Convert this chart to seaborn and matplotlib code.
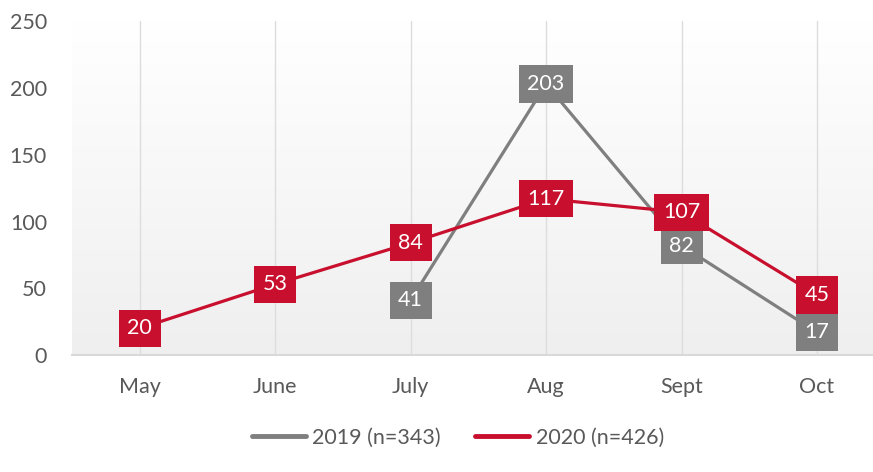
import numpy as np
import pandas as pd
import matplotlib
matplotlib.use("Agg")
import matplotlib.pyplot as plt
import seaborn as sns
from matplotlib.lines import Line2D

months = ["May", "June", "July", "Aug", "Sept", "Oct"]
vals_2019 = [np.nan, np.nan, 41, 203, 82, 17]
vals_2020 = [20, 53, 84, 117, 107, 45]
series_names = ["2019 (n=343)", "2020 (n=426)"]
colors = {"2019 (n=343)": "#7F7F7F", "2020 (n=426)": "#C8102E"}
y_ticks = [0, 50, 100, 150, 200, 250]

sns.set_theme(style="white")
plt.rcParams["font.family"] = ["Lato", "DejaVu Sans"]

rows = []
for i, m in enumerate(months):
    rows.append({"idx": i, "month": m, "value": vals_2019[i], "series": series_names[0]})
    rows.append({"idx": i, "month": m, "value": vals_2020[i], "series": series_names[1]})
df = pd.DataFrame(rows).dropna()

fig = plt.figure(figsize=(8.73, 4.72), dpi=100)
ax = fig.add_axes([72 / 873, 117 / 472, 812.7 / 873, 333.7 / 472])

# gradient background
grad = np.linspace(0, 1, 256).reshape(-1, 1)
top = np.array([1.0, 1.0, 1.0])
bot = np.array([0xEF, 0xEF, 0xEF]) / 255
img = top + (bot - top) * grad
img = np.repeat(img[:, None, :], 2, axis=1)
ax.imshow(img, extent=[-0.5, 5.5, 0, 250], aspect="auto", origin="upper", zorder=0)

for z, name in [(2, series_names[0]), (3, series_names[1])]:
    sub = df[df["series"] == name]
    sns.lineplot(data=sub, x="idx", y="value", ax=ax, color=colors[name],
                 linewidth=2.3, label=name, zorder=z, legend=False)

# labels
for z, name, vals in [(4, series_names[0], vals_2019), (5, series_names[1], vals_2020)]:
    for i, v in enumerate(vals):
        if np.isnan(v):
            continue
        ax.text(i, v, f"{int(v)}", ha="center", va="center", color="white",
                fontsize=15.5, zorder=z,
                bbox=dict(boxstyle="square,pad=0.4", facecolor=colors[name],
                          edgecolor="none"))

ax.set_xlim(-0.5, 5.5)
ax.set_ylim(0, 250)
ax.set_xticks(range(len(months)))
ax.set_xticklabels(months)
ax.set_yticks(y_ticks)
ax.set_xlabel("")
ax.set_ylabel("")
ax.tick_params(axis="x", colors="#D9D9D9", length=3, width=1, pad=13, labelcolor="#595959",
               labelsize=15.5, direction="out")
ax.tick_params(axis="y", length=0, pad=18, labelcolor="#595959", labelsize=15.5)
ax.xaxis.grid(True, color="#DDDDDD", linewidth=1, zorder=1)
ax.yaxis.grid(False)
ax.set_axisbelow(True)
for s in ["top", "right", "left"]:
    ax.spines[s].set_visible(False)
ax.spines["bottom"].set_color("#D9D9D9")
ax.spines["bottom"].set_linewidth(1.5)

handles = [Line2D([0], [0], color=colors[n], linewidth=3.5, solid_capstyle="round") for n in series_names]
fig.legend(handles, series_names, loc="center", bbox_to_anchor=(458 / 873, 1 - 438 / 472),
           ncol=2, frameon=False, fontsize=15.5, handlelength=2.5, handletextpad=0.3,
           columnspacing=1.6, labelcolor="#595959")

fig.savefig("out.png", dpi=100)
